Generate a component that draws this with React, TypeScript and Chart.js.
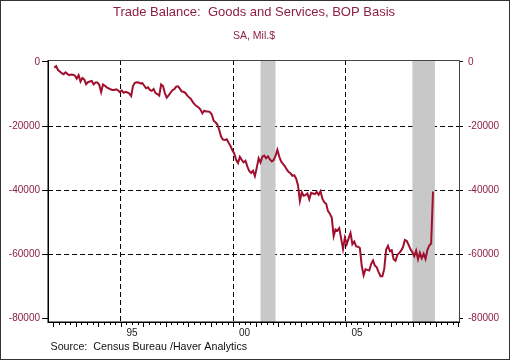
import React, { useEffect, useRef } from 'react';
import { Chart, registerables } from 'chart.js';

Chart.register(...registerables);

const START_YEAR = 1992;

// Monthly trade balance, SA, Mil.$ (Jan..Dec)
const tb1992 = [-1800, -1300, -2500, -3000, -3500, -3800, -3200, -3700, -4100, -3900, -4000, -4200];
const tb1993 = [-5200, -4100, -6100, -5000, -5400, -6900, -6300, -6100, -5900, -7000, -6400, -6400];
const tb1994 = [-7100, -9400, -7000, -7400, -7900, -8200, -8500, -8700, -8700, -8500, -8800, -9400];
const tb1995 = [-8900, -9600, -9300, -9500, -9800, -10600, -7500, -6500, -6300, -6400, -6700, -6600];
const tb1996 = [-7400, -8200, -7900, -8700, -9000, -8400, -9700, -10000, -10500, -7000, -7500, -9700];
const tb1997 = [-11100, -10400, -9600, -8800, -8500, -7700, -7600, -8300, -9200, -9300, -9700, -10500];
const tb1998 = [-11100, -11600, -12600, -13300, -13800, -14200, -14800, -16000, -15200, -15400, -15400, -15600];
const tb1999 = [-16300, -18300, -18800, -19500, -21200, -23300, -24200, -24300, -24100, -25200, -26200, -27500];
const tb2000 = [-28500, -30500, -31500, -29600, -30500, -31300, -30800, -32600, -34000, -34600, -33900, -35600];
const tb2001 = [-33000, -30000, -31300, -29500, -29200, -30000, -29400, -30400, -31000, -30600, -29300, -27400];
const tb2002 = [-29500, -31000, -31800, -32500, -33500, -34300, -34700, -35500, -35300, -36300, -38500, -43300];
const tb2003 = [-40600, -41700, -41500, -41000, -42800, -40800, -41000, -41200, -40500, -41400, -40300, -42600];
const tb2004 = [-43700, -44200, -46500, -47300, -48500, -54300, -52200, -52600, -51800, -55000, -58300, -54800];
const tb2005 = [-56800, -55000, -53300, -56800, -56000, -57500, -57600, -58000, -63600, -66500, -64600, -64800];
const tb2006 = [-65000, -63000, -61900, -63500, -64000, -65500, -66800, -66800, -64500, -58500, -57300, -59000];
const tb2007 = [-58700, -61500, -62000, -60100, -59500, -58800, -57700, -55500, -55800, -57000, -58400, -59300];
const tb2008 = [-60500, -58800, -61500, -59500, -61200, -59800, -61400, -58600, -57200, -56600, -40400];

const tradeBalance = [
  ...tb1992, ...tb1993, ...tb1994, ...tb1995, ...tb1996, ...tb1997, ...tb1998, ...tb1999,
  ...tb2000, ...tb2001, ...tb2002, ...tb2003, ...tb2004, ...tb2005, ...tb2006, ...tb2007, ...tb2008,
];

const recessionStarts = ['2001-03', '2007-12'];
const recessionEnds = ['2001-11', '2008-12'];

const yTickValues = [0, -20000, -40000, -60000, -80000];
const xGridYears = [1995, 2000, 2005];
const xLabelYears = [1995, 2000, 2005];
const xLabels = ['95', '00', '05'];
const xTickFirstYear = 1992;
const xTickLastYear = 2010;

const TITLE = 'Trade Balance:  Goods and Services, BOP Basis';
const SUBTITLE = 'SA, Mil.$';
const SOURCE = 'Source:  Census Bureau /Haver Analytics';

const FONT = '"Liberation Sans", Arial, Helvetica, sans-serif';
const RED_TEXT = '#8E1F45';
const LINE_COLOR = '#A0102E';
const RECESSION = '#C8C8C8';

const monthToYear = (s: string) => {
  const [y, m] = s.split('-').map(Number);
  return y + (m - 0.5) / 12;
};

const decorPlugin = {
  id: 'decor',
  beforeDraw(chart: any) {
    const { ctx, width, height } = chart;
    ctx.save();
    ctx.fillStyle = '#ffffff';
    ctx.fillRect(0, 0, width, height);
    ctx.restore();
  },
  beforeDatasetsDraw(chart: any) {
    const { ctx, chartArea } = chart;
    const xs = chart.scales.x;
    ctx.save();
    ctx.fillStyle = RECESSION;
    recessionStarts.forEach((s, i) => {
      const x1 = xs.getPixelForValue(monthToYear(s));
      const x2 = xs.getPixelForValue(monthToYear(recessionEnds[i]));
      ctx.fillRect(x1, chartArea.top + 1, x2 - x1, chartArea.bottom - chartArea.top - 1);
    });
    ctx.restore();
  },
  afterDatasetsDraw(chart: any) {
    const { ctx, chartArea, width, height } = chart;
    const xs = chart.scales.x;
    const { left, right, top, bottom } = chartArea;
    ctx.save();
    // frame
    ctx.strokeStyle = '#444';
    ctx.lineWidth = 1;
    ctx.beginPath();
    ctx.moveTo(left, top + 0.5);
    ctx.lineTo(right + 0.5, top + 0.5);
    ctx.lineTo(right + 0.5, bottom);
    ctx.stroke();
    ctx.strokeStyle = '#000';
    ctx.lineWidth = 1.5;
    ctx.beginPath();
    ctx.moveTo(left + 0.25, top);
    ctx.lineTo(left + 0.25, bottom + 0.25);
    ctx.lineTo(right + 1, bottom + 0.25);
    ctx.stroke();
    // x ticks (quarterly minor, yearly major)
    ctx.lineWidth = 1;
    ctx.strokeStyle = '#000';
    for (let yr = xTickFirstYear; yr <= xTickLastYear; yr++) {
      for (let q = 0; q < 4; q++) {
        if (yr === xTickLastYear && q > 0) break;
        const v = yr + q / 4;
        const px = Math.round(xs.getPixelForValue(v)) + 0.5;
        const len = q === 0 ? 5 : 3;
        ctx.beginPath();
        ctx.moveTo(px, bottom);
        ctx.lineTo(px, bottom + len);
        ctx.stroke();
      }
    }
    // x labels
    ctx.fillStyle = '#222';
    ctx.font = `10px ${FONT}`;
    ctx.textAlign = 'center';
    ctx.textBaseline = 'middle';
    xLabelYears.forEach((yr, i) => {
      ctx.fillText(xLabels[i], xs.getPixelForValue(yr + 0.5), 333);
    });
    // titles
    ctx.fillStyle = RED_TEXT;
    ctx.font = `13px ${FONT}`;
    ctx.fillText(TITLE, 254, 12.5);
    ctx.font = `10.5px ${FONT}`;
    ctx.fillText(SUBTITLE, 254, 36.5);
    // source
    ctx.fillStyle = '#111';
    ctx.font = `10.7px ${FONT}`;
    ctx.textAlign = 'left';
    ctx.fillText(SOURCE, 50.5, 346.7);
    // outer border
    ctx.strokeStyle = '#333';
    ctx.lineWidth = 1;
    ctx.strokeRect(0.5, 0.5, width - 1, height - 1);
    ctx.restore();
  },
};

export default function App() {
  const canvasRef = useRef<HTMLCanvasElement | null>(null);

  useEffect(() => {
    const canvas = canvasRef.current;
    if (!canvas) return;
    const points = tradeBalance.map((v, i) => ({ x: START_YEAR + (i + 0.5) / 12, y: v }));
    const yMin = -81060;
    const yMax = 620;
    const yCommon = (side: 'left' | 'right') => ({
      type: 'linear' as const,
      position: side,
      min: yMin,
      max: yMax,
      afterBuildTicks: (s: any) => {
        s.ticks = yTickValues.map((v) => ({ value: v }));
      },
      afterFit: (s: any) => {
        s.width = side === 'left' ? 48 : 51;
      },
      border: { display: false, dash: [5, 3] },
      ticks: {
        autoSkip: false,
        color: RED_TEXT,
        font: { size: 10, family: FONT },
        padding: side === 'left' ? 2 : 5,
        callback: (v: any) => String(v),
      },
    });

    const chart = new Chart(canvas, {
      type: 'line',
      data: {
        datasets: [
          {
            data: points,
            borderColor: LINE_COLOR,
            borderWidth: 2,
            pointRadius: 0,
            tension: 0,
            fill: false,
            xAxisID: 'x',
            yAxisID: 'y',
          },
        ],
      },
      options: {
        animation: false,
        responsive: false,
        maintainAspectRatio: false,
        layout: { padding: { top: 60, left: 0, right: 0, bottom: 0 } },
        plugins: { legend: { display: false }, tooltip: { enabled: false }, title: { display: false } },
        scales: {
          x: {
            type: 'linear',
            min: 1991.764,
            max: 2010.03,
            afterBuildTicks: (s: any) => {
              s.ticks = xGridYears.map((v) => ({ value: v }));
            },
            afterFit: (s: any) => {
              s.height = 38;
            },
            grid: { color: '#000', lineWidth: 1, drawTicks: false },
            border: { display: false, dash: [5, 3] },
            ticks: { display: false },
          },
          y: {
            ...yCommon('left'),
            grid: {
              color: (c: any) =>
                c.tick && (c.tick.value === 0 || c.tick.value === -80000) ? 'rgba(0,0,0,0)' : '#000',
              lineWidth: 1,
              drawTicks: true,
              tickLength: 6,
              tickColor: '#000',
            },
          },
          y1: {
            ...yCommon('right'),
            grid: { drawOnChartArea: false, drawTicks: true, tickLength: 4, tickColor: '#000' },
          },
        },
      },
      plugins: [decorPlugin],
    } as any);
    return () => chart.destroy();
  }, []);

  return (
    <div style={{ position: 'fixed', left: 0, top: 0, width: 510, height: 360, background: '#fff' }}>
      <canvas ref={canvasRef} width={510} height={360} style={{ display: 'block', width: 510, height: 360 }} />
    </div>
  );
}
